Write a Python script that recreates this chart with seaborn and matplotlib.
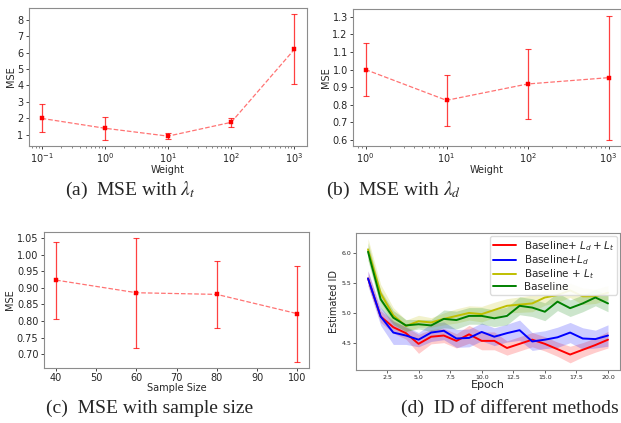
import matplotlib
matplotlib.use('Agg')
import matplotlib.pyplot as plt
import numpy as np
import pandas as pd
import seaborn as sns

#%% data
# (a) MSE vs lambda_t weight
weights_a = [0.1, 1, 10, 100, 1000]
mse_a = [2.0, 1.4, 0.92, 1.76, 6.2]
err_a = [0.85, 0.7, 0.2, 0.27, 2.13]

# (b) MSE vs lambda_d weight
weights_b = [1, 10, 100, 1000]
mse_b = [1.0, 0.825, 0.918, 0.954]
err_b = [0.149, 0.145, 0.2, 0.354]

# (c) MSE vs sample size
sizes_c = [40, 60, 80, 100]
mse_c = [0.923, 0.885, 0.880, 0.822]
err_c = [0.116, 0.165, 0.10, 0.144]

# (d) estimated ID per epoch
epochs = list(range(1, 21))
id_full = [5.58, 4.94, 4.76, 4.66, 4.48, 4.60, 4.62, 4.53, 4.64, 4.53,
           4.53, 4.41, 4.48, 4.55, 4.48, 4.39, 4.30, 4.38, 4.46, 4.55]
id_ld = [5.58, 4.94, 4.67, 4.62, 4.55, 4.67, 4.70, 4.57, 4.58, 4.68,
         4.60, 4.66, 4.71, 4.52, 4.55, 4.59, 4.67, 4.57, 4.56, 4.62]
id_lt = [6.07, 5.33, 4.96, 4.78, 4.86, 4.84, 4.90, 4.95, 5.00, 4.98,
         5.05, 5.12, 5.14, 5.16, 5.26, 5.30, 5.38, 5.28, 5.28, 5.34]
id_base = [6.03, 5.23, 4.92, 4.79, 4.81, 4.79, 4.90, 4.88, 4.95, 4.95,
           4.91, 4.95, 5.12, 5.09, 5.02, 5.19, 5.08, 5.16, 5.26, 5.16]
std_full = [0.12, 0.10, 0.10, 0.10, 0.16, 0.12, 0.12, 0.12, 0.15, 0.15,
            0.15, 0.12, 0.12, 0.12, 0.12, 0.12, 0.14, 0.12, 0.12, 0.14]
std_ld = [0.13, 0.15, 0.20, 0.15, 0.12, 0.15, 0.15, 0.15, 0.15, 0.15,
          0.15, 0.15, 0.17, 0.15, 0.15, 0.17, 0.17, 0.18, 0.15, 0.18]
std_lt = [0.18, 0.15, 0.13, 0.10, 0.10, 0.08, 0.10, 0.12, 0.12, 0.13,
          0.13, 0.12, 0.13, 0.14, 0.13, 0.12, 0.12, 0.14, 0.12, 0.12]
std_base = [0.15, 0.15, 0.12, 0.10, 0.08, 0.10, 0.15, 0.15, 0.14, 0.14,
            0.14, 0.15, 0.15, 0.15, 0.15, 0.15, 0.14, 0.14, 0.14, 0.14]

methods = ['Baseline+ $L_d + L_t$', 'Baseline+$L_d$', 'Baseline + $L_t$', 'Baseline']
colors = ['r', 'b', 'y', 'g']

#%% figure
sns.set_style('white')
plt.rcParams['font.family'] = ['DejaVu Sans']
fig = plt.figure(figsize=(6.21, 4.23), dpi=100)

ax_a = fig.add_axes([0.0467, 0.6548, 0.4477, 0.3262])
ax_b = fig.add_axes([0.569, 0.6548, 0.4306, 0.3232])
ax_c = fig.add_axes([0.0709, 0.1307, 0.4272, 0.3215])
ax_d = fig.add_axes([0.5733, 0.1253, 0.4251, 0.3232])


def mse_panel(ax, x, y, err, xlabel, logx):
    sns.lineplot(x=x, y=y, ax=ax, color='red', linestyle='--', linewidth=0.9, alpha=0.55)
    ax.errorbar(x, y, yerr=err, fmt='none', ecolor='red', elinewidth=0.9,
                capsize=2.2, capthick=0.8, alpha=0.75)
    sns.scatterplot(x=x, y=y, ax=ax, marker='s', s=8, color='red', edgecolor='red', linewidth=0.3, zorder=5)
    if logx:
        ax.set_xscale('log')
    ax.set_xlabel(xlabel, fontsize=7, labelpad=0)
    ax.set_ylabel('MSE', fontsize=7, labelpad=1)
    ax.tick_params(labelsize=7, length=2.5, width=0.6, pad=1.5, bottom=True, left=True)
    ax.tick_params(which='minor', length=1.5, width=0.4, bottom=True)
    for s in ax.spines.values():
        s.set_color('0.55')
        s.set_linewidth(0.8)


mse_panel(ax_a, weights_a, mse_a, err_a, 'Weight', True)
ax_a.set_yticks(range(1, 9))
ax_a.set_xticks(weights_a)

mse_panel(ax_b, weights_b, mse_b, err_b, 'Weight', True)
ax_b.set_yticks(np.arange(0.6, 1.31, 0.1))
ax_b.set_xticks(weights_b)

mse_panel(ax_c, sizes_c, mse_c, err_c, 'Sample Size', False)
ax_c.set_yticks(np.arange(0.70, 1.051, 0.05))
ax_c.set_xticks(range(40, 101, 10))

# (d) ID curves with shaded bands
means = [id_full, id_ld, id_lt, id_base]
stds = [std_full, std_ld, std_lt, std_base]
df = pd.DataFrame({'Epoch': epochs * 4,
                   'ID': sum(means, []),
                   'Method': sum([[m] * len(epochs) for m in methods], [])})
sns.lineplot(data=df, x='Epoch', y='ID', hue='Method', palette=dict(zip(methods, colors)),
             ax=ax_d, linewidth=1.4)
for m, sd, c in zip(means, stds, colors):
    m = np.array(m)
    sd = np.array(sd)
    ax_d.fill_between(epochs, m - sd, m + sd, color=c, alpha=0.2, linewidth=0)
ax_d.set_xlim(0.05, 20.95)
ax_d.set_ylim(4.04, 6.34)
ax_d.set_xticks(np.arange(2.5, 20.1, 2.5))
ax_d.set_yticks([4.5, 5.0, 5.5, 6.0])
ax_d.tick_params(labelsize=4.5, length=2, width=0.5, pad=1.5, bottom=True, left=True)
ax_d.set_xlabel('Epoch', fontsize=8, labelpad=0)
ax_d.set_ylabel('Estimated ID', fontsize=7, labelpad=2)
for s in ax_d.spines.values():
    s.set_color('0.55')
    s.set_linewidth(0.8)
ax_d.legend(loc='upper right', fontsize=7.5, handlelength=2.2, labelspacing=0.05,
            borderpad=0.25, borderaxespad=0.3, handletextpad=0.8,
            framealpha=0.9, edgecolor='0.85', fancybox=True)

# captions under each panel
cap = dict(fontsize=14, family='Liberation Serif', math_fontfamily='stix', ha='center', va='center')
fig.text(130 / 621, 1 - 190 / 423, r'(a)  MSE with $\lambda_t$', **cap)
fig.text(394 / 621, 1 - 190 / 423, r'(b)  MSE with $\lambda_d$', **cap)
fig.text(150 / 621, 1 - 408 / 423, '(c)  MSE with sample size', **cap)
fig.text(510 / 621, 1 - 408 / 423, '(d)  ID of different methods', **cap)

fig.savefig('out.png', dpi=100)
